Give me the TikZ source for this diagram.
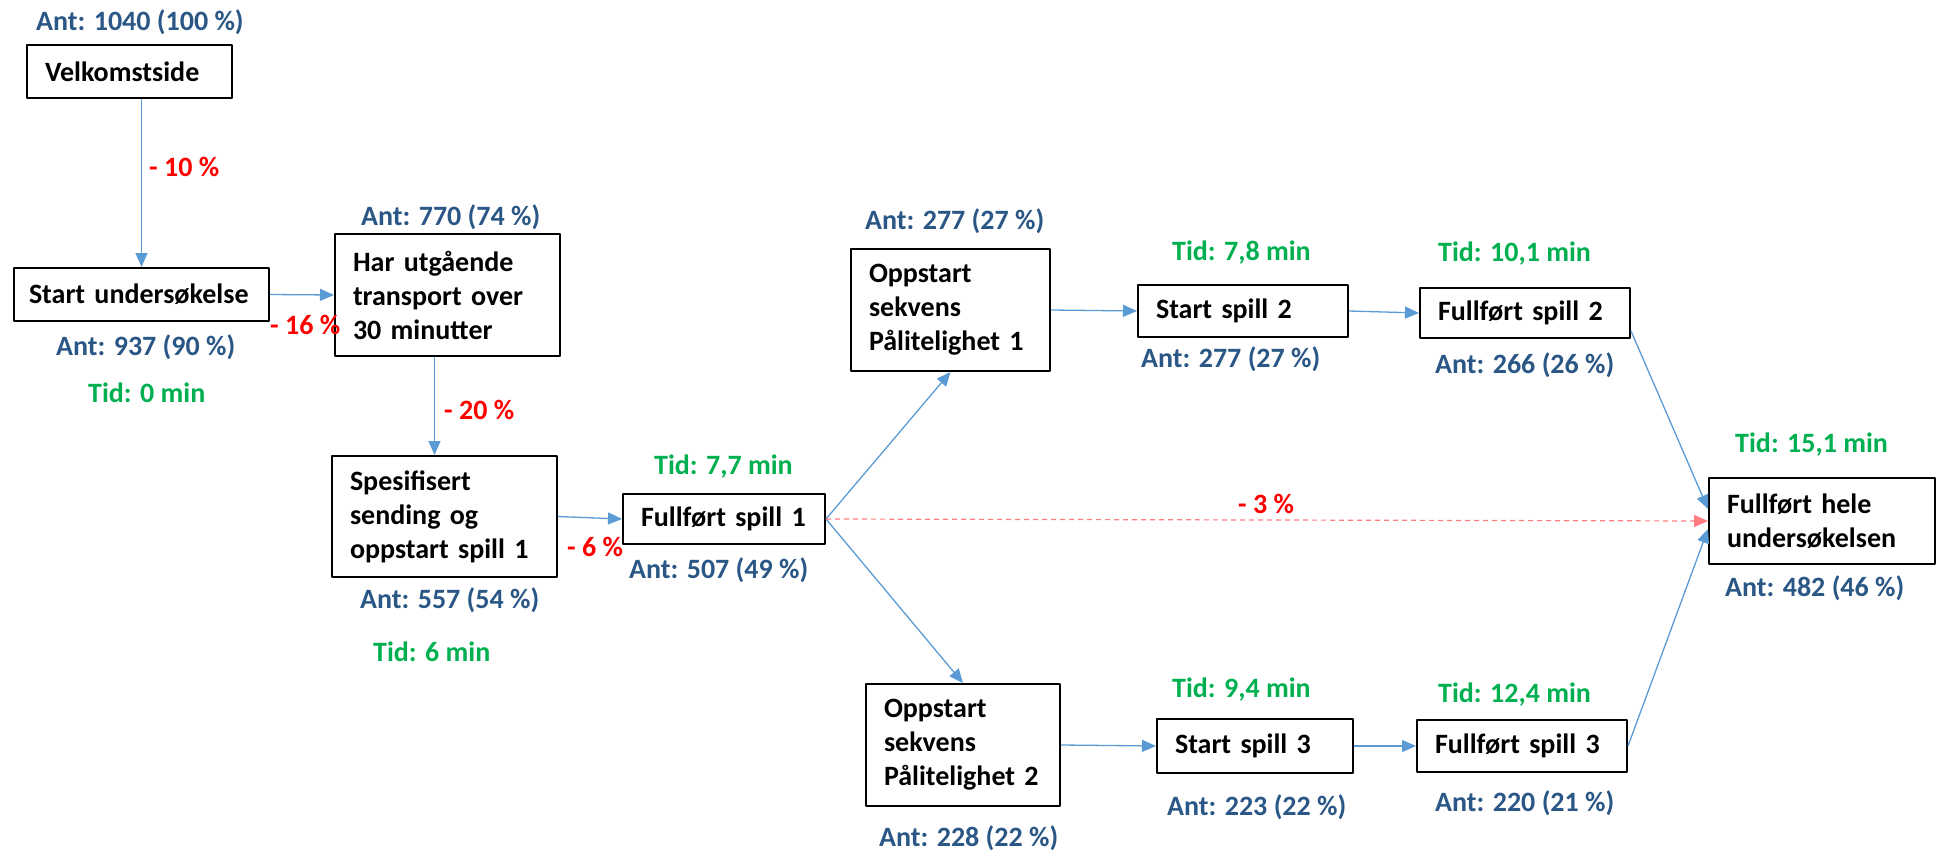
\documentclass[tikz,border=0pt]{standalone}
\usepackage{fontspec}
\setmainfont{Carlito}
\usetikzlibrary{arrows.meta}
\definecolor{antblue}{HTML}{2A5785}
\definecolor{tidgreen}{HTML}{00B050}
\definecolor{dropred}{HTML}{FF0000}
\definecolor{flowblue}{HTML}{5B9BD5}
\definecolor{lossred}{HTML}{FF7C80}
\begin{document}
\begin{tikzpicture}[x=1pt, y=-1pt, font=\bfseries\fontsize{28}{34}\selectfont, line join=round,
		box/.style={draw, line width=2pt, anchor=north west, inner xsep=18pt, inner ysep=0pt, align=left},
		flow/.style={draw=flowblue, line width=1.3pt, -{Triangle[length=14pt,width=12pt]}},
		ant/.style={text=antblue, anchor=west, inner sep=0pt},
		tid/.style={text=tidgreen, anchor=west, inner sep=0pt},
		drop/.style={text=dropred, anchor=west, inner sep=0pt}]
		\useasboundingbox (0,0) rectangle (1939,851);
		\node[box, text width=169pt, minimum height=53pt] (velk) at (26,44) {Velkomstside};
		\node[box, inner xsep=15pt, text width=225pt, minimum height=53pt] (start) at (13,267) {\mbox{Start undersøkelse}};
		\node[box, text width=189pt, minimum height=122pt] (har) at (334,233) {Har utgående\\transport over\\30 minutter};
		\node[box, text width=189pt, minimum height=121pt] (spes) at (331,455) {Spesifisert\\sending og\\oppstart spill 1};
		\node[box, text width=166pt, minimum height=50pt] (full1) at (622,493) {Fullført spill 1};
		\node[box, text width=163pt, minimum height=122pt] (opp1) at (850,248) {Oppstart\\sekvens\\Pålitelighet 1};
		\node[box, text width=174pt, minimum height=52pt] (start2) at (1137,284) {Start spill 2};
		\node[box, text width=174pt, minimum height=50pt] (full2) at (1419,287) {Fullført spill 2};
		\node[box, text width=190pt, minimum height=86pt] (hele) at (1708,477) {Fullført hele\\undersøkelsen};
		\node[box, text width=158pt, minimum height=122pt] (opp2) at (865,683) {Oppstart\\sekvens\\Pålitelighet 2};
		\node[box, text width=160pt, minimum height=54pt] (start3) at (1156,718) {Start spill 3};
		\node[box, text width=174pt, minimum height=52pt] (full3) at (1416,719) {Fullført spill 3};

		\node[ant] (antvelk) at (36,22) {Ant: 1040 (100 \%)};
		\node[ant] (antstart) at (56,347) {Ant: 937 (90 \%)};
		\node[tid] (tidstart) at (88,393) {Tid: 0 min};
		\node[ant] (anthar) at (361,217) {Ant: 770 (74 \%)};
		\node[ant] (antspes) at (360,600) {Ant: 557 (54 \%)};
		\node[tid] (tidspes) at (373,652) {Tid: 6 min};
		\node[tid] (tidfull1) at (654,467) {Tid: 7,7 min};
		\node[ant] (antfull1) at (629,570) {Ant: 507 (49 \%)};
		\node[ant] (antopp1) at (865,221) {Ant: 277 (27 \%)};
		\node[tid] (tidstart2) at (1172,253) {Tid: 7,8 min};
		\node[ant] (antstart2) at (1141,359) {Ant: 277 (27 \%)};
		\node[tid] (tidfull2) at (1438,254) {Tid: 10,1 min};
		\node[ant] (antfull2) at (1435,365) {Ant: 266 (26 \%)};
		\node[tid] (tidhele) at (1735,445) {Tid: 15,1 min};
		\node[ant] (anthele) at (1725,588) {Ant: 482 (46 \%)};
		\node[ant] (antopp2) at (879,838) {Ant: 228 (22 \%)};
		\node[tid] (tidstart3) at (1172,690) {Tid: 9,4 min};
		\node[ant] (antstart3) at (1167,807) {Ant: 223 (22 \%)};
		\node[tid] (tidfull3) at (1438,695) {Tid: 12,4 min};
		\node[ant] (antfull3) at (1435,803) {Ant: 220 (21 \%)};

		\node[drop] (dropvelk) at (149,167) {- 10 \%};
		\node[drop] (dropstart) at (270,325) {- 16 \%};
		\node[drop] (drophar) at (444,410) {- 20 \%};
		\node[drop] (dropspes) at (567,547) {- 6 \%};
		\node[drop] (dropfull1) at (1238,504) {- 3 \%};

		\draw[flow] (velk.south -| start.north) -- (start.north);
		\draw[flow] (start.east) -- (har.west);
		\draw[flow] ([xshift=-13pt]har.south) -- ([xshift=-10pt]spes.north);
		\draw[flow] (spes.east) -- (full1.west);
		\draw[flow] (full1.east) -- (opp1.south);
		\draw[flow] (full1.east) -- (opp2.north);
		\draw[line width=1.2pt, lossred, dash pattern=on 5pt off 4pt, -{Triangle[length=14pt,width=12pt]}] (full1.east) -- (hele.west);
		\draw[flow] (opp1.east) -- (start2.west);
		\draw[flow] (start2.east) -- (full2.west);
		\draw[flow] ([yshift=-18pt]full2.east) -- ([yshift=12pt]hele.west);
		\draw[flow] (opp2.east) -- (start3.west);
		\draw[flow] (start3.east) -- (full3.west);
		\draw[flow] (full3.east) -- ([yshift=-8pt]hele.west);
	\end{tikzpicture}
\end{document}
